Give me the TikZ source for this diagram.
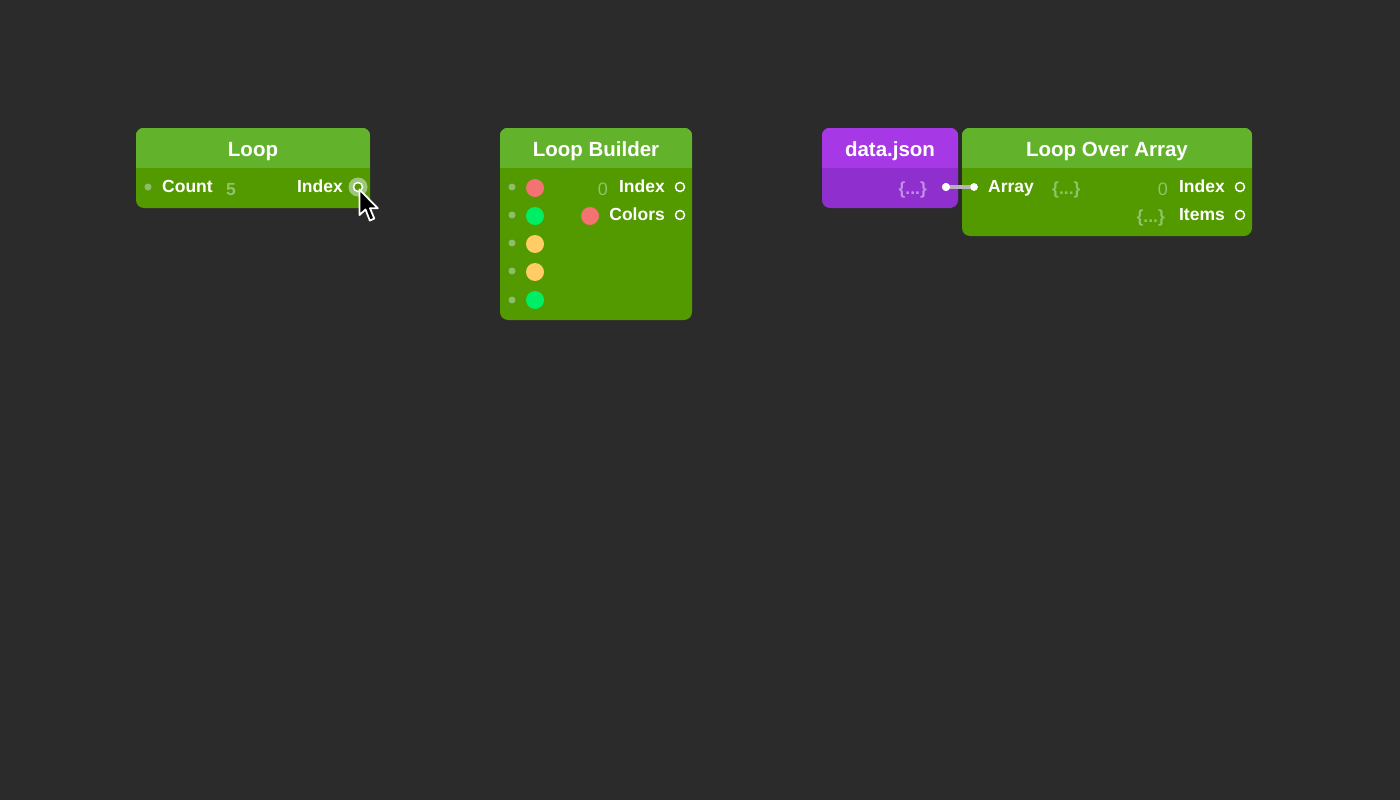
\documentclass[tikz,border=0pt]{standalone}
\usepackage{fontspec}
\setmainfont{Liberation Sans}
\definecolor{bg}{HTML}{2B2B2B}
\definecolor{ghdr}{HTML}{63B22C}
\definecolor{gbody}{HTML}{539900}
\definecolor{phdr}{HTML}{A638E6}
\definecolor{pbody}{HTML}{8F2FCD}
\definecolor{gval}{HTML}{8FC46A}
\definecolor{pval}{HTML}{C48FEA}
\definecolor{indot}{HTML}{8DBD6C}
\definecolor{halo}{HTML}{9DC77C}
\definecolor{swred}{HTML}{F57272}
\definecolor{swgreen}{HTML}{00EE66}
\definecolor{swyellow}{HTML}{FFCC66}
\definecolor{wire}{HTML}{B8B2BC}
\tikzset{
  box/.style={rectangle, rounded corners=8pt, inner sep=0pt, draw=none},
  ttl/.style={anchor=base, text=white, font=\fontsize{20.5}{23}\selectfont\bfseries, inner sep=0pt},
  lbl/.style={text=white, font=\fontsize{17.5}{20}\selectfont\bfseries, inner sep=0pt},
  gv/.style={text=gval, font=\fontsize{18}{20}\selectfont, inner sep=0pt},
  gvb/.style={text=gval, font=\fontsize{17.5}{20}\selectfont\bfseries, inner sep=0pt},
  pv/.style={text=pval, font=\fontsize{17.5}{20}\selectfont\bfseries, inner sep=0pt},
  inport/.style={circle, fill=indot, minimum size=7pt, inner sep=0pt},
  outport/.style={circle, draw=white, line width=1.5pt, fill=gbody, minimum size=9pt, inner sep=0pt},
  wport/.style={circle, fill=white, minimum size=8pt, inner sep=0pt},
  swatch/.style={circle, minimum size=18pt, inner sep=0pt},
}
\begin{document}
\begin{tikzpicture}[x=1pt,y=-1pt]
\useasboundingbox (0,0) rectangle (1400,800);
\fill[bg] (0,0) rectangle (1400,800);

% ---------- Loop ----------
\node[box, fill=gbody, minimum width=234pt, minimum height=80pt] (loop) at (253,168) {};
\begin{scope}
\clip[rounded corners=8pt] (loop.south west) rectangle (loop.north east);
\fill[ghdr] (loop.north west) rectangle ([yshift=-40pt]loop.north east);
\end{scope}
\node[ttl] (looptitle) at (253,156) {Loop};
\node[inport] (loopin) at (148,187) {};
\node[lbl, anchor=base west] (loopcount) at (162,192.5) {Count};
\node[gvb, anchor=base west] (loopfive) at (226,195.5) {5};
\node[lbl, anchor=base east] (loopindex) at (343,192.5) {Index};
\fill[halo] (358,187) circle (9.5);
\node[outport] (loopout) at (358,187) {};

% ---------- Loop Builder ----------
\node[box, fill=gbody, minimum width=192pt, minimum height=192pt] (lb) at (596,224) {};
\begin{scope}
\clip[rounded corners=8pt] (lb.south west) rectangle (lb.north east);
\fill[ghdr] (lb.north west) rectangle ([yshift=-40pt]lb.north east);
\end{scope}
\node[ttl] (lbtitle) at (596,156) {Loop Builder};
\node[inport] (lbin1) at (512,187) {};
\node[inport] (lbin2) at (512,215) {};
\node[inport] (lbin3) at (512,243) {};
\node[inport] (lbin4) at (512,271) {};
\node[inport] (lbin5) at (512,300) {};
\node[swatch, fill=swred] (lbsw1) at (535,188) {};
\node[swatch, fill=swgreen] (lbsw2) at (535,216) {};
\node[swatch, fill=swyellow] (lbsw3) at (535,244) {};
\node[swatch, fill=swyellow] (lbsw4) at (535,272) {};
\node[swatch, fill=swgreen] (lbsw5) at (535,300) {};
\node[gv, anchor=base east] (lbzero) at (608,195) {0};
\node[lbl, anchor=base east] (lbindex) at (665,192.5) {Index};
\node[swatch, fill=swred] (lbcol) at (590,216) {};
\node[lbl, anchor=base east] (lbcolors) at (665,220.5) {Colors};
\node[outport] (lbout1) at (680,187) {};
\node[outport] (lbout2) at (680,215) {};

% ---------- data.json ----------
\node[box, fill=pbody, minimum width=136pt, minimum height=80pt] (dj) at (890,168) {};
\begin{scope}
\clip[rounded corners=8pt] (dj.south west) rectangle (dj.north east);
\fill[phdr] (dj.north west) rectangle ([yshift=-40pt]dj.north east);
\end{scope}
\node[ttl] (djtitle) at (890,156) {data.json};
\node[pv, anchor=base east] (djval) at (927,194) {\{...\}};
\node[wport] (djout) at (946,187) {};

% ---------- Loop Over Array ----------
\node[box, fill=gbody, minimum width=290pt, minimum height=108pt] (loa) at (1107,182) {};
\begin{scope}
\clip[rounded corners=8pt] (loa.south west) rectangle (loa.north east);
\fill[ghdr] (loa.north west) rectangle ([yshift=-40pt]loa.north east);
\end{scope}
\node[ttl] (loatitle) at (1107,156) {Loop Over Array};
\node[wport, minimum size=7.5pt] (loain) at (974,187) {};
\node[lbl, anchor=base west] (loaarray) at (988,192.5) {Array};
\node[gvb, anchor=base west] (loaarrval) at (1052,194) {\{...\}};
\node[gv, anchor=base east] (loazero) at (1168,195) {0};
\node[lbl, anchor=base east] (loaindex) at (1225,192.5) {Index};
\node[gvb, anchor=base east] (loaitemsval) at (1165,222) {\{...\}};
\node[lbl, anchor=base east] (loaitems) at (1225,220.5) {Items};
\node[outport] (loaout1) at (1240,187) {};
\node[outport] (loaout2) at (1240,215) {};

% connector
\draw[wire, line width=3.5pt] (djout.center) -- (loain.center);
\node[wport] at (946,187) {};
\node[wport, minimum size=7.5pt] at (974,187) {};

% mouse cursor
\filldraw[fill=black, draw=white, line width=1.8pt, line join=round]
  (359.5,189.5) -- (359.5,215) -- (365.5,209.5) -- (369.8,220.5) -- (374.3,218.6) -- (370,208.3) -- (377.8,208.3) -- cycle;
\end{tikzpicture}
\end{document}
